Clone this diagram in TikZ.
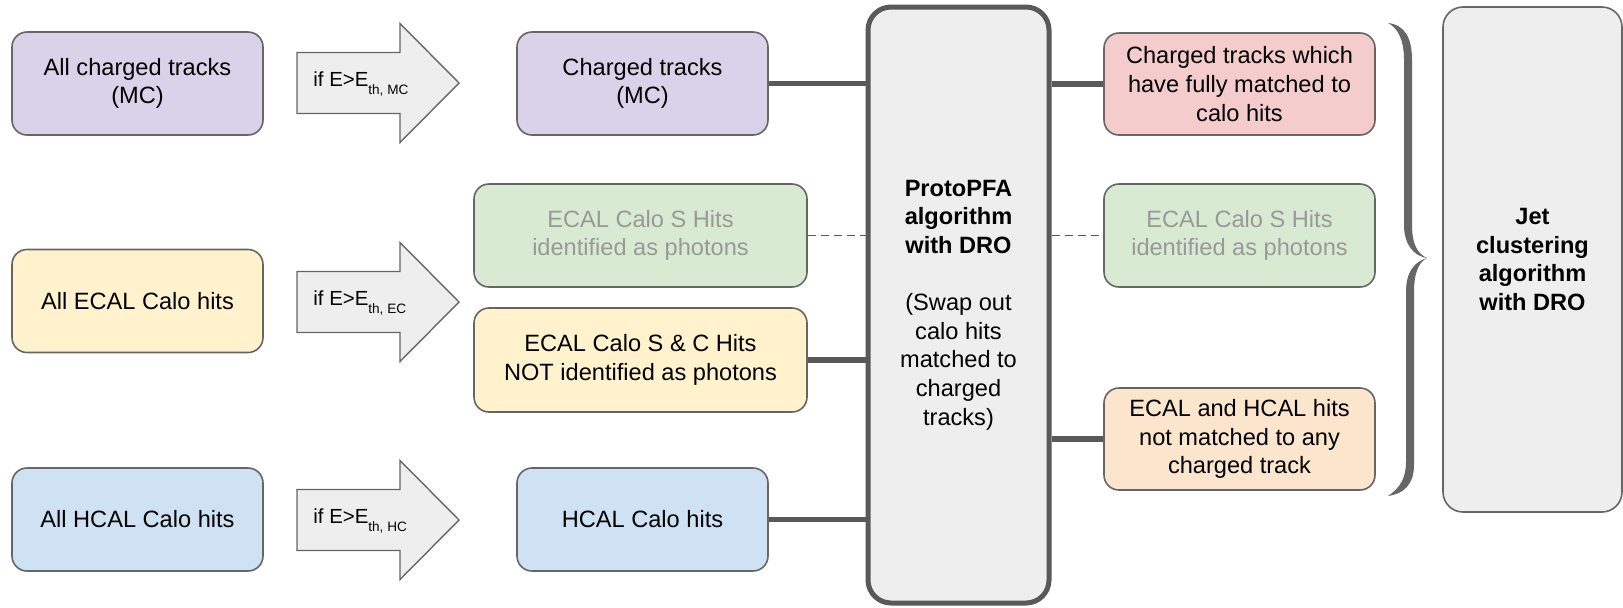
\documentclass[tikz,border=0pt]{standalone}
\usepackage{fontspec}
\setmainfont{Liberation Sans}
\definecolor{cpurple}{HTML}{D9D2E9}
\definecolor{cyellow}{HTML}{FFF2CC}
\definecolor{cblue}{HTML}{CFE2F3}
\definecolor{cgreen}{HTML}{D9EAD3}
\definecolor{cred}{HTML}{F4CCCC}
\definecolor{corange}{HTML}{FCE5CD}
\definecolor{cgrey}{HTML}{EEEEEE}
\definecolor{cline}{HTML}{595959}
\definecolor{cborder}{HTML}{666666}
\definecolor{cfaded}{HTML}{999999}
\tikzset{
 box/.style={draw=cborder, line width=0.8pt, rounded corners=7.5pt, align=center, inner sep=0pt, font=\fontsize{11.8}{14.3}\selectfont},
 conn/.style={draw=cline, line width=2.6pt},
 dconn/.style={draw=cline, line width=0.8pt, dash pattern=on 4pt off 2.5pt},
 arrowshape/.style={draw=cborder, fill=cgrey, line width=0.7pt},
 arrtext/.style={anchor=west, inner sep=0pt, font=\fontsize{10.2}{12}\selectfont},
 bigbox/.style={box, fill=cgrey},
}
\newcommand{\thsub}[1]{\raisebox{-3.8pt}{\fontsize{6.8}{8}\selectfont #1}}
\begin{document}
\begin{tikzpicture}[x=0.5pt,y=-0.5pt]
\useasboundingbox (0,0) rectangle (1623,607);

% left column
\node[box, fill=cpurple, minimum width=125.5pt, minimum height=51.5pt] (a1) at (137.5,83.5) {All charged tracks\\(MC)};
\node[box, fill=cyellow, minimum width=125.5pt, minimum height=51.5pt] (a2) at (137.5,301) {All ECAL Calo hits};
\node[box, fill=cblue, minimum width=125.5pt, minimum height=51.5pt] (a3) at (137.5,519.5) {All HCAL Calo hits};

% block arrows
\foreach \c/\nm/\lab in {83/t1/MC, 302/t2/EC, 520/t3/HC}{
  \draw[arrowshape] (297,\c-30.5) -- (400,\c-30.5) -- (400,\c-59.5) -- (459,\c) -- (400,\c+59.5) -- (400,\c+30.5) -- (297,\c+30.5) -- cycle;
  \node[arrtext] (\nm) at (313,\c+1) {if E>E\thsub{th, \lab}};
}

% middle column
\node[box, fill=cpurple, minimum width=125.5pt, minimum height=51.5pt] (b1) at (642.5,83.5) {Charged tracks\\(MC)};
\node[box, fill=cgreen, text=cfaded, minimum width=166.5pt, minimum height=51.5pt] (g1) at (640.5,235.5) {ECAL Calo S Hits\\identified as photons};
\node[box, fill=cyellow, minimum width=166.5pt, minimum height=52pt] (y1) at (640.5,360) {ECAL Calo S \& C Hits\\NOT identified as photons};
\node[box, fill=cblue, minimum width=125.5pt, minimum height=51.5pt] (b3) at (642.5,519.5) {HCAL Calo hits};

% ProtoPFA
\node[bigbox, draw=cline, line width=2.5pt, rounded corners=11.5pt, minimum width=90.5pt, minimum height=298pt] (p) at (958.5,305)
 {\textbf{ProtoPFA}\\\textbf{algorithm}\\\textbf{with DRO}\\[14.3pt](Swap out\\calo hits\\matched to\\charged\\tracks)};

% right column
\node[box, fill=cred, minimum width=135.5pt, minimum height=51pt] (r1) at (1239.5,84) {Charged tracks which\\have fully matched to\\calo hits};
\node[box, fill=cgreen, text=cfaded, minimum width=135.5pt, minimum height=51.5pt] (g2) at (1239.5,235.5) {ECAL Calo S Hits\\identified as photons};
\node[box, fill=corange, minimum width=135.5pt, minimum height=51pt] (o) at (1239.5,439) {ECAL and HCAL hits\\not matched to any\\charged track};

% Jet box
\node[bigbox, rounded corners=10pt, minimum width=89.5pt, minimum height=252.5pt] (j) at (1532.5,259.5)
 {\textbf{Jet}\\\textbf{clustering}\\\textbf{algorithm}\\\textbf{with DRO}};

% connectors
\draw[conn] (b1.east) -- (b1.east -| p.west);
\draw[conn] (y1.east) -- (y1.east -| p.west);
\draw[conn] (b3.east) -- (b3.east -| p.west);
\draw[conn] (r1.west -| p.east) -- (r1.west);
\draw[conn] (o.west -| p.east) -- (o.west);
\draw[dconn] (g1.east) -- (g1.east -| p.west);
\draw[dconn] (g2.west -| p.east) -- (g2.west);

% brace
\fill[cborder] (1388,23) .. controls (1405,25) and (1412,38) .. (1412,60) -- (1412,225)
  .. controls (1412,245) and (1418,254) .. (1427,258)
  .. controls (1414,256) and (1404,245) .. (1404,225) -- (1404,60)
  .. controls (1404,40) and (1398,28) .. (1388,23) -- cycle;
\fill[cborder] (1427,258) .. controls (1419,262) and (1414,272) .. (1414,292) -- (1414,465)
  .. controls (1414,485) and (1403,494) .. (1388,496)
  .. controls (1400,488) and (1406,478) .. (1406,462) -- (1406,292)
  .. controls (1406,272) and (1414,262) .. (1427,258) -- cycle;
\end{tikzpicture}
\end{document}
